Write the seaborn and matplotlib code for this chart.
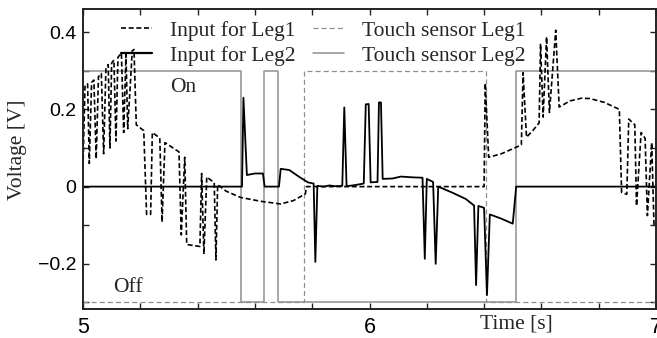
import numpy as np
import pandas as pd
import matplotlib
matplotlib.use("Agg")
import matplotlib.pyplot as plt
from matplotlib.ticker import MultipleLocator, FixedLocator
from matplotlib.lines import Line2D
import seaborn as sns

# ---------------- data ----------------
leg1_t = [5.000, 5.007, 5.016, 5.022, 5.030, 5.038, 5.046, 5.054, 5.064, 5.072,
          5.080, 5.088, 5.094, 5.100, 5.108, 5.115, 5.122, 5.134, 5.142, 5.150,
          5.156, 5.172, 5.178, 5.186, 5.212, 5.222, 5.236, 5.242, 5.268, 5.276,
          5.286, 5.335, 5.343, 5.355, 5.362, 5.408, 5.414, 5.422, 5.432, 5.458,
          5.464, 5.470, 5.500, 5.550, 5.620, 5.690, 5.735, 5.776, 5.780, 6.400,
          6.404, 6.416, 6.460, 6.500, 6.530, 6.536, 6.548, 6.570, 6.592, 6.597,
          6.606, 6.618, 6.628, 6.650, 6.662, 6.700, 6.740, 6.770, 6.820, 6.872,
          6.880, 6.898, 6.905, 6.926, 6.932, 6.948, 6.962, 6.970, 6.985, 6.993,
          7.000]
leg1_v = [0.050, 0.262, 0.266, 0.060, 0.270, 0.276, 0.072, 0.285, 0.293, 0.085,
          0.305, 0.316, 0.100, 0.320, 0.328, 0.118, 0.335, 0.346, 0.140, 0.342,
          0.150, 0.352, 0.355, 0.160, 0.145, -0.072, -0.072, 0.140, 0.126, -0.092,
          0.114, 0.090, -0.125, 0.076, -0.150, -0.155, 0.034, -0.175, 0.025, 0.010,
          -0.190, 0.005, -0.012, -0.028, -0.038, -0.045, -0.036, -0.019, 0.000, 0.000,
          0.268, 0.076, 0.085, 0.098, 0.108, 0.295, 0.128, 0.145, 0.165, 0.370,
          0.180, 0.388, 0.192, 0.405, 0.206, 0.222, 0.229, 0.228, 0.218, 0.200,
          -0.015, -0.020, 0.175, 0.160, -0.050, 0.140, 0.125, -0.075, 0.114, -0.100,
          -0.100]

leg2_t = [5.000, 5.555, 5.560, 5.572, 5.600, 5.628, 5.634, 5.684, 5.690, 5.720,
          5.755, 5.785, 5.805, 5.811, 5.818, 5.840, 5.860, 5.880, 5.905, 5.912,
          5.920, 5.950, 5.980, 5.987, 5.997, 6.004, 6.028, 6.033, 6.040, 6.046,
          6.080, 6.110, 6.150, 6.185, 6.193, 6.200, 6.222, 6.231, 6.240, 6.290,
          6.336, 6.365, 6.372, 6.380, 6.400, 6.410, 6.420, 6.460, 6.500, 6.512,
          7.000]
leg2_v = [0.000, 0.000, 0.230, 0.030, 0.034, 0.034, 0.000, 0.000, 0.046, 0.043,
          0.025, 0.011, 0.008, -0.195, 0.002, 0.000, 0.003, 0.001, 0.002, 0.205,
          0.001, 0.004, 0.008, 0.213, 0.214, 0.011, 0.012, 0.218, 0.218, 0.020,
          0.021, 0.026, 0.024, 0.023, -0.187, 0.020, 0.012, -0.200, 0.000, -0.016,
          -0.032, -0.049, -0.255, -0.050, -0.055, -0.281, -0.072, -0.083, -0.096, 0.000,
          0.000]

touch1_t = [5.000, 5.772, 6.406, 7.000]
touch1_v = [-0.3, 0.3, -0.3, -0.3]
touch2_t = [5.000, 5.553, 5.631, 5.682, 6.510, 7.000]
touch2_v = [0.3, -0.3, 0.3, -0.3, 0.3, 0.3]

series_labels = ["Input for Leg1", "Input for Leg2", "Touch sensor Leg1", "Touch sensor Leg2"]
x_ticks = [5, 6, 7]
y_ticks = [-0.2, 0, 0.2, 0.4]
y_ticklabels = ["\u22120.2", "0", "0.2", "0.4"]

# ---------------- style ----------------
sns.set_theme(style="ticks")
plt.rcParams["font.family"] = ["Liberation Serif", "DejaVu Serif"]
plt.rcParams["axes.unicode_minus"] = True

fig = plt.figure(figsize=(6.57, 3.38), dpi=100)
ax = fig.add_axes([83 / 657, 1 - 309 / 338, (656 - 83) / 657, (309 - 9) / 338])

gray = "#8f8f8f"
df_t1 = pd.DataFrame({"t": touch1_t, "v": touch1_v})
df_t2 = pd.DataFrame({"t": touch2_t, "v": touch2_v})
df_l1 = pd.DataFrame({"t": leg1_t, "v": leg1_v})
df_l2 = pd.DataFrame({"t": leg2_t, "v": leg2_v})

sns.lineplot(data=df_t1, x="t", y="v", ax=ax, color=gray, lw=0.9,
             drawstyle="steps-post", sort=False, estimator=None,
             dashes=False, linestyle=(0, (4, 2.5)))
sns.lineplot(data=df_t2, x="t", y="v", ax=ax, color=gray, lw=1.1,
             drawstyle="steps-post", sort=False, estimator=None)
sns.lineplot(data=df_l2, x="t", y="v", ax=ax, color="black", lw=1.3,
             sort=False, estimator=None)
sns.lineplot(data=df_l1, x="t", y="v", ax=ax, color="black", lw=1.2,
             sort=False, estimator=None, linestyle=(0, (3, 1.6)))

ax.set_xlim(5, 7)
ax.set_ylim(-0.317, 0.46)

ax.xaxis.set_major_locator(FixedLocator(x_ticks))
ax.xaxis.set_minor_locator(MultipleLocator(0.2))
ax.yaxis.set_major_locator(FixedLocator(y_ticks))
ax.yaxis.set_minor_locator(MultipleLocator(0.1))
ax.set_yticklabels(y_ticklabels)
ax.set_xticklabels([str(v) for v in x_ticks])

for side in ["left", "right", "top", "bottom"]:
    ax.spines[side].set_linewidth(1.4)
    ax.spines[side].set_color("#222222")

ax.tick_params(axis="both", which="both", direction="in", top=True, right=True,
               length=4.5, width=1.0, color="#222222")
ax.tick_params(axis="x", which="major", pad=6, labelsize=15.5)
ax.tick_params(axis="y", which="major", pad=5, labelsize=14)
for lab in ax.get_xticklabels() + ax.get_yticklabels():
    lab.set_family(["Liberation Sans", "DejaVu Sans"])
    lab.set_color("black")

ax.set_xlabel("Time [s]", fontsize=15.5)
ax.xaxis.set_label_coords(0.757, -0.02)
ax.set_ylabel("Voltage [V]", fontsize=15.5)
ax.yaxis.set_label_coords(-0.097, 0.53)

ax.text(5.305, 0.256, "On", fontsize=15.5, ha="left", va="center")
ax.text(5.105, -0.262, "Off", fontsize=15.5, ha="left", va="center")

handles = [
    Line2D([], [], color="black", lw=1.2, linestyle=(0, (3, 1.6))),
    Line2D([], [], color="black", lw=1.6),
    Line2D([], [], color=gray, lw=0.9, linestyle=(0, (4, 2.5))),
    Line2D([], [], color=gray, lw=1.1),
]
ax.legend(handles, series_labels, ncol=2, loc="upper left",
          bbox_to_anchor=(0.058, 0.975), frameon=False, fontsize=15.5,
          handlelength=1.45, handletextpad=0.85, columnspacing=0.8,
          labelspacing=0.22, borderaxespad=0, borderpad=0.2)

fig.savefig("out.png", dpi=100)
